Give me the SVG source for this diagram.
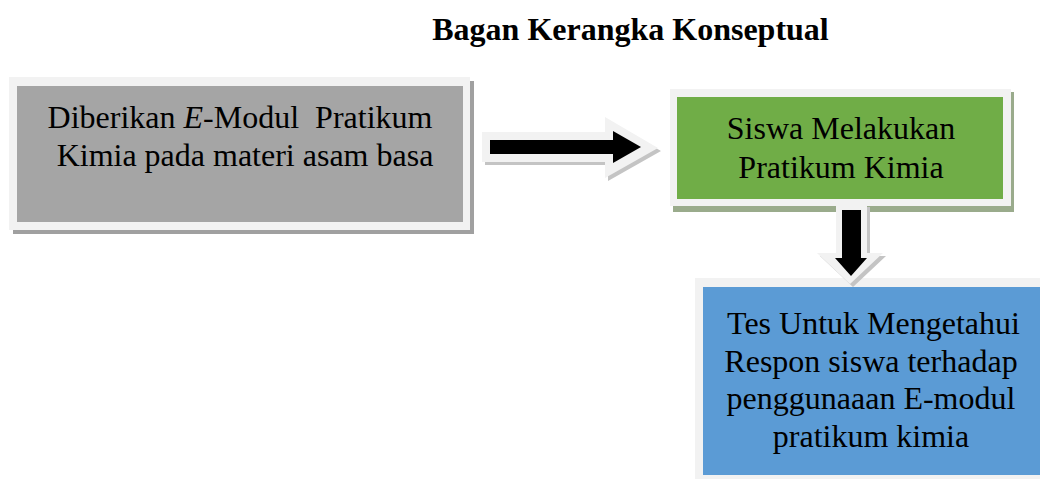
<svg xmlns="http://www.w3.org/2000/svg" width="1040" height="479" viewBox="0 0 1040 479">
<style>
.t{font-family:"Liberation Serif","Times New Roman",serif;font-size:32px;fill:#000;text-anchor:middle}
.title{font-weight:bold}
.frame{fill:#f2f2f2}
.ao{fill:#f2f2f2}
.as{fill:#c4c4c4}
.ab{fill:#000}
</style>
<rect width="1040" height="479" fill="#ffffff"/>
<text class="t title" x="630.5" y="40">Bagan Kerangka Konseptual</text>

<g id="node-modul">
<rect x="13" y="81" width="461" height="153" fill="#a0a0a0"/>
<rect class="frame" x="9" y="77" width="461" height="153"/>
<rect x="17" y="86" width="446" height="136" fill="#a5a5a5"/>
<text class="t" x="240" y="128" xml:space="preserve" style="white-space:pre">Diberikan <tspan font-style="italic">E</tspan>-Modul  Pratikum</text>
<text class="t" x="245" y="166">Kimia pada materi asam basa</text>
</g>

<g id="node-praktikum">
<rect x="673" y="92" width="341" height="120" fill="#9aab8c"/>
<rect class="frame" x="670" y="89" width="341" height="117"/>
<rect x="677" y="97" width="326" height="102" fill="#70ad47"/>
<text class="t" x="841" y="139">Siswa Melakukan</text>
<text class="t" x="841" y="178">Pratikum Kimia</text>
</g>

<g id="node-tes">
<rect class="frame" x="695" y="278" width="345" height="201"/>
<rect x="703" y="287" width="337" height="188" fill="#5b9bd5"/>
<text class="t" x="873.5" y="334">Tes Untuk Mengetahui</text>
<text class="t" x="871" y="371.5">Respon siswa terhadap</text>
<text class="t" x="871" y="409">penggunaaan E-modul</text>
<text class="t" x="871" y="446.5">pratikum kimia</text>
</g>

<g id="connectors">
<g id="arrow-right">
<polygon class="as" points="485,135 608,135 608,120 661,151 608,181 608,165 485,165"/>
<polygon class="ao" points="482,132 605,132 605,117 658,148 605,178 605,162 482,162"/>
<polygon class="ab" points="490,140 613,140 613,131 641,147 613,163 613,154 490,154"/>
</g>
<g id="arrow-down">
<polygon class="as" points="839,207 870,207 870,256 886,256 853,287 820,256 839,256"/>
<polygon class="ao" points="836,204 867,204 867,253 883,253 850,284 817,253 836,253"/>
<polygon class="ab" points="842,210 861,210 861,258 867,258 851,276 835,258 842,258"/>
</g>
</g>
</svg>
